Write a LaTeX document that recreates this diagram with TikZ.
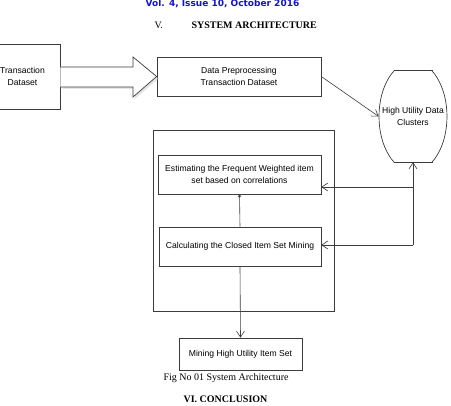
\documentclass[tikz,border=0pt]{standalone}
\usepackage{fontspec}
\setmainfont{Liberation Serif}
\newfontfamily\boxfont{Liberation Sans}
\newfontfamily\headfont{DejaVu Sans}
\usetikzlibrary{arrows.meta,shadows}
\definecolor{headblue}{RGB}{20,20,200}
\definecolor{linegray}{RGB}{60,60,60}

\begin{document}
\begin{tikzpicture}[x=1pt,y=-1pt,
  box/.style={draw=linegray,line width=0.7pt,align=center,inner sep=0pt,
    font=\boxfont\fontsize{8.6}{11.5}\selectfont},
  tip/.style={draw=linegray,line width=0.6pt,-{Straight Barb[length=6pt,width=8pt]}}]
\useasboundingbox (0,0) rectangle (451,406);
% heading
\node[anchor=base,text=headblue,font=\headfont\bfseries\fontsize{9}{11}\selectfont](vol) at (222.5,6.5){Vol. 4, Issue 10, October 2016};
\node[anchor=base west](secno) at (151,29){V.};
\node[anchor=base west,font=\bfseries](sec) at (188,29){SYSTEM ARCHITECTURE};
% boxes
\node[box,minimum width=75pt,minimum height=65pt](trans) at (22.5,76.5){Transaction\\Dataset};
\node[box,minimum width=164pt,minimum height=39pt](prep) at (239,76.5){Data Preprocessing\\Transaction Dataset};
\node[box,draw=none,minimum width=68pt,minimum height=91pt](hud) at (413,116.5){High Utility Data\\Clusters};
\node[draw=linegray,line width=0.7pt,minimum width=181pt,minimum height=181pt](core) at (243.5,220.5){};
\node[box,minimum width=163pt,minimum height=39pt](est) at (239.5,174.5){Estimating the Frequent Weighted item\\set based on correlations};
\node[box,minimum width=162pt,minimum height=39pt](calc) at (240,246.5){Calculating the Closed Item Set Mining};
\node[box,minimum width=123pt,minimum height=32pt](mine) at (240.5,354){Mining High Utility Item Set};
% cluster outline
\begin{scope}
\clip (hud.north west) rectangle (hud.south east);
\draw[linegray,line width=0.7pt] (hud.center) ellipse [x radius=34pt,y radius=55pt];
\end{scope}
\draw[linegray,line width=0.7pt] ([xshift=-19.5pt]hud.north) -- ([xshift=19.5pt]hud.north);
\draw[linegray,line width=0.7pt] ([xshift=-19.5pt]hud.south) -- ([xshift=19.5pt]hud.south);
% block arrow
\draw[linegray,fill=white,line width=0.7pt,drop shadow={shadow xshift=2pt,shadow yshift=-2pt,fill=gray!40}]
  (trans.east |- 0,67) -- (133,67) -- (133,57) -- (prep.west) -- (133,97) -- (133,87) -- (trans.east |- 0,87);
% connectors
\coordinate (j1) at (413,187);
\coordinate (j2) at (413,245);
\draw[tip] (prep.east) -- (hud.west);
\draw[linegray,line width=0.6pt,-{Straight Barb[length=2pt,width=3pt]}] (calc.north) -- (est.south);
\draw[tip] (calc.south) -- (mine.north);
\draw[tip] (j2) -- (hud.south);
\draw[tip] (j1) -- (est.east |- j1);
\draw[tip] (j2) -- (calc.east |- j2);
% caption
\node[anchor=base west](cap) at (160,381){Fig No 01 System Architecture};
\node[anchor=base west,font=\bfseries](concl) at (180,403){VI. CONCLUSION};
\end{tikzpicture}
\end{document}
